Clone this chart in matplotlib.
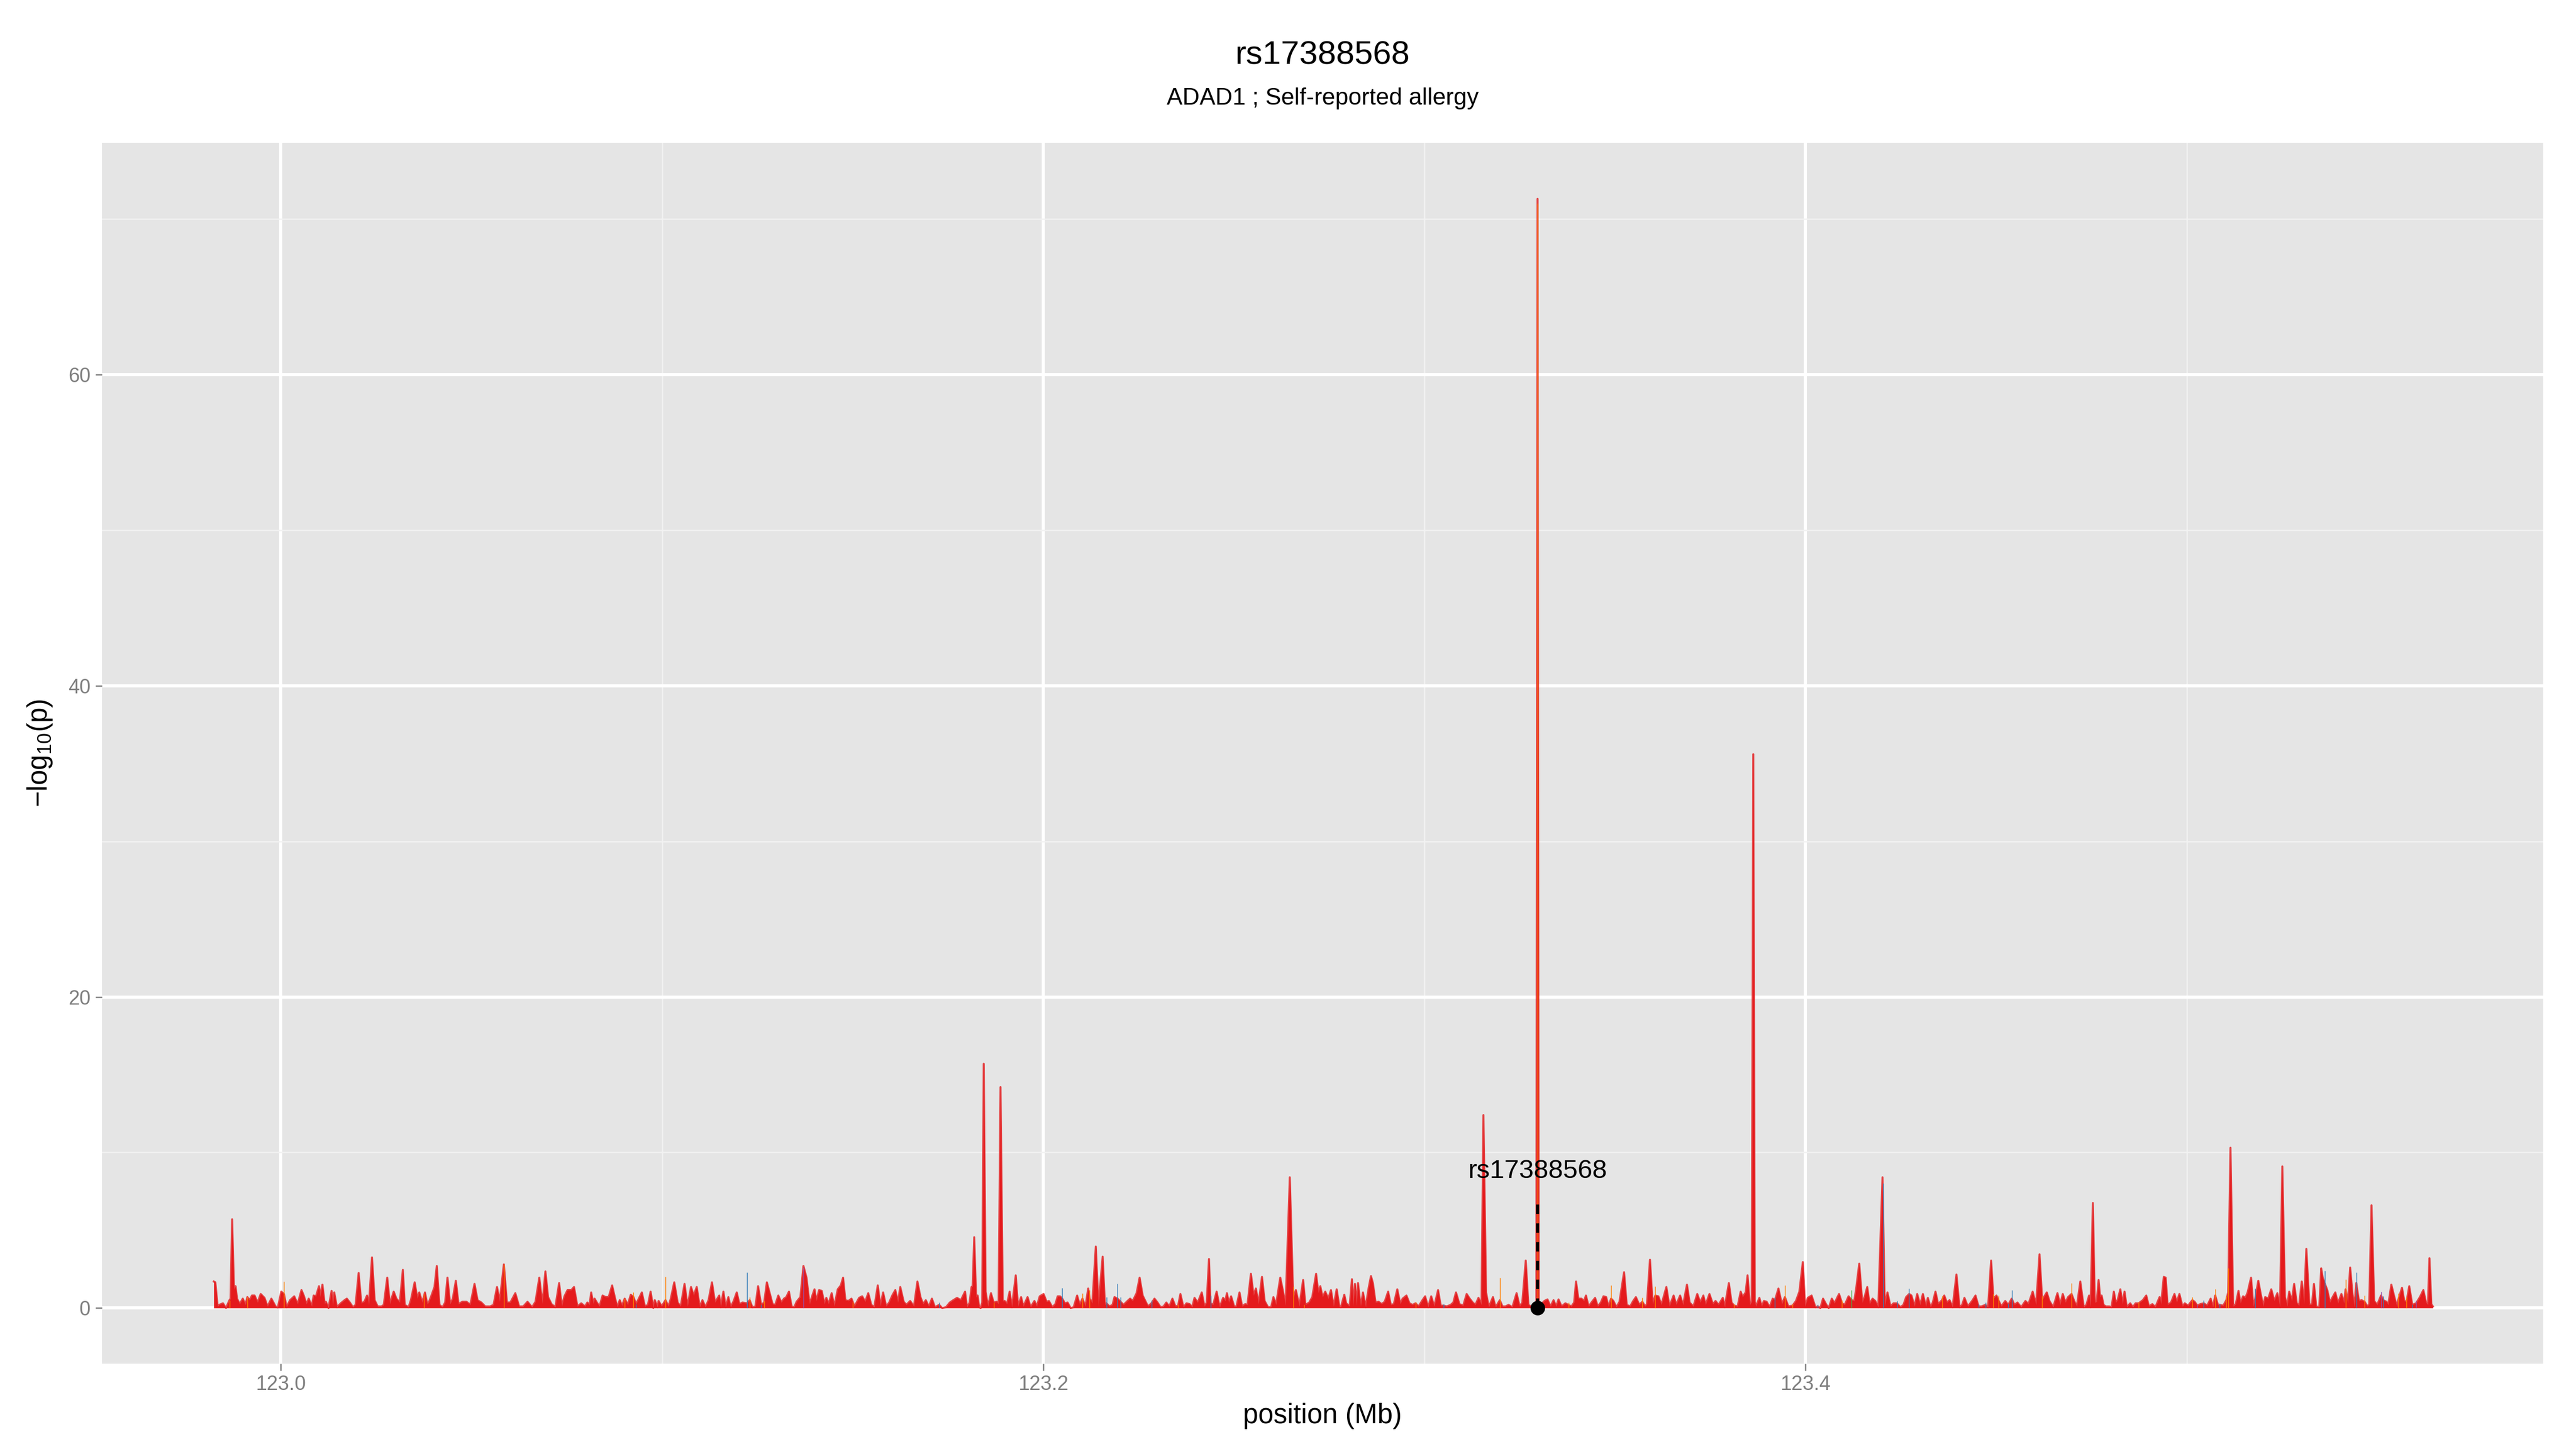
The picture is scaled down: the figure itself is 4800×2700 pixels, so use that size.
import matplotlib
matplotlib.use("Agg")
import matplotlib.pyplot as plt
import numpy as np

plt.rcParams['font.family'] = ['Liberation Sans', 'DejaVu Sans']

# ---------------- data ----------------
red_pos = [
 122.9824,122.9828,122.9834,122.9838,122.9848,122.9856,122.9865,122.9868,122.9872,122.9877,
 122.9881,122.9885,122.9892,122.9900,122.9907,122.9912,122.9918,122.9924,122.9931,122.9939,
 122.9947,122.9957,122.9965,122.9975,122.9986,122.9992,123.0001,123.0008,123.0015,123.0024,
 123.0035,123.0044,123.0054,123.0060,123.0067,123.0073,123.0081,123.0086,123.0092,123.0100,
 123.0103,123.0109,123.0115,123.0118,123.0125,123.0133,123.0136,123.0140,123.0147,123.0157,
 123.0167,123.0173,123.0181,123.0189,123.0196,123.0204,123.0211,123.0219,123.0226,123.0231,
 123.0239,123.0246,123.0254,123.0264,123.0270,123.0279,123.0286,123.0296,123.0303,123.0312,
 123.0320,123.0325,123.0335,123.0341,123.0351,123.0358,123.0363,123.0371,123.0378,123.0384,
 123.0388,123.0395,123.0403,123.0409,123.0416,123.0424,123.0431,123.0437,123.0444,123.0451,
 123.0459,123.0466,123.0476,123.0487,123.0497,123.0508,123.0516,123.0526,123.0536,123.0549,
 123.0558,123.0567,123.0574,123.0585,123.0593,123.0602,123.0615,123.0625,123.0636,123.0647,
 123.0659,123.0668,123.0678,123.0686,123.0694,123.0701,123.0710,123.0720,123.0730,123.0737,
 123.0744,123.0752,123.0762,123.0769,123.0778,123.0788,123.0798,123.0804,
 123.0810,123.0814,123.0820,123.0823,123.0829,123.0836,123.0844,123.0852,123.0860,123.0869,
 123.0877,123.0883,123.0889,123.0895,123.0902,123.0910,123.0918,123.0925,123.0932,123.0939,
 123.0947,123.0955,123.0963,123.0970,123.0977,123.0981,123.0988,123.0991,123.0999,123.1009,
 123.1017,123.1023,123.1032,123.1041,123.1049,123.1059,123.1067,123.1076,123.1083,123.1091,
 123.1099,123.1106,123.1114,123.1122,123.1131,123.1139,123.1150,123.1154,123.1161,123.1167,
 123.1174,123.1180,123.1188,123.1196,123.1203,123.1211,123.1223,123.1230,123.1237,123.1245,
 123.1252,123.1260,123.1268,123.1275,123.1282,123.1290,123.1297,123.1305,123.1313,123.1320,
 123.1326,123.1333,123.1340,123.1347,123.1353,123.1363,123.1371,123.1379,123.1387,123.1393,
 123.1400,123.1405,123.1412,123.1419,123.1426,123.1431,123.1437,123.1445,123.1452,123.1461,
 123.1469,123.1475,123.1481,123.1489,123.1497,123.1505,123.1517,123.1525,123.1533,123.1541,
 123.1549,123.1557,123.1566,123.1573,123.1580,123.1588,123.1596,123.1604,123.1612,123.1619,
 123.1625,123.1634,123.1641,123.1651,123.1661,123.1670,123.1678,123.1685,123.1692,123.1700,
 123.1708,123.1716,123.1727,123.1735,123.1745,123.1755,123.1764,123.1774,123.1784,123.1790,
 123.1795,123.1800,123.1807,123.1812,123.1815,123.1819,123.1824,123.1828,123.1832,123.1836,
 123.1840,123.1844,123.1849,123.1855,123.1863,123.1870,123.1878,123.1883,123.1888,123.1894,
 123.1899,123.1905,123.1912,123.1918,123.1928,123.1934,123.1942,123.1948,123.1959,123.1967,
 123.1977,123.1983,123.1991,123.2001,123.2009,123.2015,123.2024,123.2032,123.2038,123.2044,
 123.2050,123.2057,123.2064,123.2072,123.2080,123.2089,123.2096,123.2103,123.2111,123.2118,
 123.2122,123.2129,123.2138,123.2145,123.2156,123.2162,123.2166,123.2174,123.2182,123.2187,
 123.2195,123.2203,123.2211,123.2219,123.2228,123.2235,123.2245,123.2253,123.2261,123.2268,
 123.2275,123.2284,123.2292,123.2300,123.2308,123.2316,123.2323,123.2331,123.2339,123.2347,
 123.2354,123.2360,123.2368,123.2376,123.2384,123.2391,123.2397,123.2405,123.2408,123.2416,
 123.2423,123.2429,123.2435,123.2439,123.2446,123.2455,123.2463,123.2472,123.2478,123.2482,
 123.2487,123.2493,123.2501,123.2507,123.2515,123.2522,123.2530,123.2536,123.2545,123.2552,
 123.2558,123.2565,123.2574,123.2581,123.2590,123.2598,123.2604,123.2611,123.2622,123.2629,
 123.2636,123.2647,123.2656,123.2663,123.2672,123.2682,123.2688,123.2698,123.2706,123.2716,
 123.2722,123.2727,123.2733,123.2740,123.2748,123.2755,123.2762,123.2770,123.2777,
 123.2781,123.2790,123.2795,123.2804,123.2810,123.2813,123.2818,123.2822,123.2826,123.2833,
 123.2839,123.2846,123.2854,123.2860,123.2865,123.2872,123.2880,123.2888,123.2896,123.2905,
 123.2912,123.2920,123.2929,123.2937,123.2943,123.2953,123.2961,123.2969,123.2977,123.2985,
 123.2995,123.3002,123.3010,123.3018,123.3026,123.3036,123.3043,123.3050,123.3059,123.3069,
 123.3076,123.3083,123.3092,123.3102,123.3111,123.3119,123.3127,123.3134,123.3142,123.3150,
 123.3155,123.3162,123.3169,123.3180,123.3187,123.3198,123.3205,123.3213,123.3221,123.3231,
 123.3242,123.3250,123.3257,123.3266,123.3273,123.3283,123.3290,123.3294,123.3297,123.3300,
 123.3305,123.3315,123.3323,123.3331,123.3339,123.3346,123.3352,123.3360,123.3370,123.3378,
 123.3386,123.3393,123.3398,123.3404,123.3412,123.3419,123.3424,123.3431,123.3440,123.3448,
 123.3455,123.3463,123.3470,123.3477,123.3483,123.3490,123.3496,123.3504,123.3512,123.3524,
 123.3531,123.3540,123.3548,123.3555,123.3564,123.3572,123.3579,123.3584,123.3592,123.3599,
 123.3606,123.3614,123.3622,123.3635,123.3643,123.3654,123.3661,123.3671,123.3679,123.3689,
 123.3696,123.3706,123.3716,123.3724,123.3732,123.3738,123.3748,123.3757,123.3764,
 123.3772,123.3783,123.3788,123.3793,123.3799,123.3806,123.3813,123.3822,123.3830,123.3835,
 123.3843,123.3848,123.3854,123.3859,123.3863,123.3867,123.3870,123.3879,123.3885,123.3891,
 123.3898,123.3906,123.3914,123.3920,123.3929,123.3938,123.3946,123.3955,123.3966,123.3975,
 123.3984,123.3993,123.3999,123.4006,123.4016,123.4026,123.4032,123.4039,123.4046,123.4055,
 123.4061,123.4069,123.4076,123.4088,123.4096,123.4103,123.4113,123.4121,123.4128,123.4133,
 123.4141,123.4149,123.4155,123.4162,123.4168,123.4176,123.4183,123.4191,123.4202,123.4208,
 123.4215,123.4223,123.4231,123.4240,123.4249,123.4257,123.4264,123.4272,123.4278,123.4286,
 123.4293,123.4301,123.4308,123.4316,123.4321,123.4328,123.4334,123.4341,123.4348,123.4358,
 123.4364,123.4371,123.4378,123.4386,123.4396,123.4404,123.4411,123.4417,123.4426,123.4437,
 123.4446,123.4454,123.4462,123.4472,123.4479,123.4487,123.4493,123.4501,123.4506,123.4514,
 123.4524,123.4532,123.4541,123.4548,123.4556,123.4566,123.4577,123.4585,123.4596,123.4605,
 123.4614,123.4621,123.4633,123.4640,123.4650,123.4661,123.4668,123.4675,123.4682,123.4689,
 123.4698,123.4705,123.4712,123.4721,123.4730,123.4737,123.4744,
 123.4748,123.4754,123.4759,123.4764,123.4769,123.4773,123.4777,123.4782,123.4788,123.4797,
 123.4803,123.4809,123.4814,123.4819,123.4826,123.4832,123.4837,123.4843,123.4852,123.4859,
 123.4866,123.4874,123.4885,123.4894,123.4901,123.4910,123.4918,123.4929,123.4933,123.4940,
 123.4945,123.4950,123.4959,123.4968,123.4974,123.4981,123.4989,123.4995,123.5004,123.5010,
 123.5015,123.5021,123.5028,123.5036,123.5045,123.5054,123.5063,123.5069,123.5075,123.5082,
 123.5087,123.5096,123.5104,123.5109,123.5115,123.5122,123.5129,123.5136,123.5141,123.5148,
 123.5154,123.5160,123.5169,123.5175,123.5180,123.5188,123.5194,123.5201,123.5206,123.5214,
 123.5222,123.5230,123.5238,123.5245,123.5251,123.5258,123.5264,123.5269,123.5276,123.5282,
 123.5289,123.5295,123.5302,123.5308,123.5314,123.5322,123.5329,123.5334,123.5340,123.5348,
 123.5353,123.5357,123.5362,123.5369,123.5376,123.5382,123.5390,123.5397,123.5406,123.5413,
 123.5417,123.5423,123.5429,123.5435,123.5440,123.5445,123.5452,123.5459,123.5467,123.5474,
 123.5479,123.5485,123.5492,123.5500,123.5510,123.5516,123.5524,123.5529,123.5537,123.5544,
 123.5552,123.5555,123.5565,123.5571,123.5577,123.5584,123.5592,123.5597,123.5602,123.5612,
 123.5621,123.5628,123.5633,123.5637,123.5642,123.5646,
]
red_val = [
 1.7,1.65,0.1,0.2,0.3,0.0,0.5,0.6,5.7,1.2,
 1.4,0.6,0.25,0.6,0.2,0.7,0.5,0.8,0.8,0.35,
 0.9,0.65,0.1,0.6,0.1,0.03,1.05,0.9,0.05,0.5,
 0.75,0.25,1.15,0.8,0.25,0.6,0.1,0.8,0.75,1.4,
 0.7,1.5,0.25,0.4,0.0,1.1,0.1,1.0,0.05,0.3,
 0.5,0.6,0.35,0.05,0.2,2.25,0.3,0.4,0.8,0.2,
 3.25,0.5,0.1,0.1,0.2,1.95,0.25,1.05,0.6,0.35,
 2.45,0.2,0.05,0.5,1.65,0.6,1.0,0.35,1.0,0.25,
 0.35,0.8,1.35,2.7,0.2,0.05,0.35,1.95,0.25,0.6,
 1.75,0.25,0.4,0.4,0.2,1.55,0.5,0.35,0.1,0.1,
 0.2,1.35,0.4,2.8,0.35,0.35,0.95,0.1,0.1,0.4,
 0.05,0.4,1.95,0.25,2.35,0.7,0.25,0.05,1.6,0.1,
 0.75,1.15,1.15,1.35,0.1,0.3,0.1,0.35,
 0.2,1.0,0.25,0.6,0.35,0.1,0.8,0.7,0.7,1.45,
 0.6,0.05,0.5,0.15,0.6,0.2,0.85,0.7,0.25,0.6,
 1.0,0.1,0.2,1.05,0.0,0.5,0.05,0.45,0.1,0.5,
 0.1,0.6,1.65,0.35,0.1,1.55,0.1,1.35,0.8,1.35,
 0.05,0.5,0.05,0.5,1.65,0.35,0.8,0.05,1.05,0.05,
 0.7,0.05,0.45,1.0,0.25,0.35,0.3,0.5,0.05,0.1,
 1.4,0.2,0.35,1.65,1.0,0.25,0.2,0.8,0.35,0.6,
 0.7,1.05,0.1,0.05,0.4,0.7,2.7,1.95,0.25,0.7,
 1.2,0.45,1.15,1.1,0.25,0.65,0.25,0.95,0.1,1.2,
 1.45,1.95,0.5,0.45,0.6,0.1,0.65,0.75,0.4,0.95,
 0.2,0.05,1.45,0.1,1.0,0.1,0.35,0.8,1.15,0.35,
 1.35,0.4,0.2,0.45,0.1,1.7,0.7,0.25,0.5,0.1,
 0.6,0.05,0.2,0.0,0.05,0.35,0.5,0.65,0.5,0.8,
 1.05,0.05,0.35,1.35,1.4,4.55,0.7,0.8,0.05,0.0,
 0.35,15.7,1.05,0.1,0.95,0.35,0.4,0.25,14.2,0.45,
 0.45,0.25,1.05,0.05,2.1,0.1,0.7,0.1,0.7,0.05,
 0.45,0.1,0.75,0.9,0.4,0.45,0.05,0.25,0.75,0.75,
 0.6,0.3,0.35,0.0,0.05,0.8,0.2,0.6,0.1,1.25,
 0.6,0.3,3.95,0.1,3.3,0.2,0.3,0.1,0.2,0.7,
 0.6,0.4,0.2,0.4,0.6,0.45,0.95,1.95,0.8,0.45,
 0.1,0.3,0.6,0.35,0.05,0.1,0.35,0.1,0.6,0.1,
 0.15,0.9,0.05,0.3,0.25,0.05,0.65,0.35,0.5,1.0,
 0.1,0.35,3.15,0.3,0.2,1.05,0.05,0.65,0.45,0.95,
 0.35,0.75,0.1,0.1,1.0,0.1,0.25,0.2,2.2,0.8,
 1.25,0.25,2.0,0.45,0.05,0.05,0.7,0.2,1.95,1.1,
 0.15,8.4,0.6,1.15,0.1,1.8,0.2,0.35,0.7,2.2,
 0.95,1.4,0.7,1.05,0.6,1.15,0.1,1.2,0.1,
 0.05,0.85,0.3,0.1,1.85,0.1,1.55,0.1,1.6,0.1,
 1.0,0.05,1.3,2.05,1.6,0.35,0.4,0.25,0.4,1.05,
 0.2,0.25,1.2,0.25,0.6,0.8,0.3,0.2,0.3,0.1,
 0.5,0.75,0.05,0.75,0.1,1.15,0.15,0.15,0.1,0.2,
 0.35,1.0,0.25,0.15,0.9,0.6,0.35,0.2,0.65,0.2,
 12.4,1.0,0.05,0.7,0.05,0.5,0.1,0.1,0.2,0.05,
 0.95,0.1,0.35,3.05,0.2,0.05,0.1,0.3,71.3,0.3,
 0.2,0.45,0.55,0.1,0.5,0.1,0.55,0.1,0.3,0.2,
 0.1,0.35,1.7,0.6,0.6,0.45,0.8,0.1,0.4,0.65,
 0.1,0.35,0.75,0.7,0.1,0.6,0.45,0.05,0.4,2.3,
 0.2,0.1,0.45,0.7,0.2,0.4,0.1,0.25,3.1,0.25,
 0.8,0.75,0.2,1.35,0.1,0.8,0.2,0.8,0.2,1.5,
 0.35,0.1,0.9,0.35,0.8,0.2,0.9,0.25,0.45,
 0.2,0.65,0.05,0.75,1.6,0.35,0.15,0.1,1.05,0.7,
 1.0,2.1,0.2,0.4,35.6,0.4,0.1,0.65,0.1,0.45,
 0.4,0.05,0.6,0.5,1.25,0.25,0.7,0.1,0.15,0.45,
 1.05,2.95,0.1,0.65,0.8,0.05,0.1,0.0,0.6,0.2,
 0.0,0.6,0.3,0.9,0.3,0.2,0.75,0.5,0.45,1.25,
 2.85,0.35,0.7,1.35,0.25,0.6,0.45,0.05,8.4,0.1,
 1.0,0.1,0.3,0.3,0.05,0.2,0.7,0.9,0.8,0.1,
 0.9,0.2,0.9,0.1,0.65,0.05,0.35,1.05,0.25,0.5,
 0.8,0.35,0.5,0.05,2.15,0.05,0.2,0.65,0.1,0.45,
 0.8,0.1,0.1,0.2,0.05,3.05,0.6,0.8,0.5,0.1,
 0.45,0.2,0.6,0.2,0.35,0.05,0.45,0.25,1.05,0.2,
 3.45,0.5,1.0,0.45,0.05,0.95,0.2,0.9,0.35,0.7,
 0.9,0.45,0.1,1.7,0.05,0.2,0.8,
 0.05,6.75,0.35,0.4,1.8,0.7,0.8,0.2,0.1,0.1,
 0.05,1.05,0.35,0.5,1.2,0.25,1.05,0.05,0.3,0.05,
 0.3,0.3,0.5,0.8,0.1,0.25,0.05,0.7,0.25,2.0,
 1.95,0.2,0.35,0.9,0.35,0.9,0.1,0.3,0.15,0.35,
 0.5,0.4,0.15,0.25,0.3,0.15,0.6,0.05,0.8,0.2,
 0.2,0.15,0.5,1.0,10.3,0.1,0.25,1.1,0.3,0.75,
 0.65,1.0,1.95,0.1,0.6,1.75,0.95,0.1,0.7,0.6,
 1.2,0.45,0.95,0.05,9.1,0.7,0.1,1.05,0.45,1.55,
 0.3,0.15,1.7,0.25,3.8,0.2,0.25,1.55,0.1,0.05,
 2.55,1.95,1.6,1.15,0.35,0.65,1.0,0.3,0.9,0.3,
 1.2,0.3,2.6,0.95,0.05,1.6,0.45,0.5,0.4,0.1,
 0.25,6.6,0.45,0.2,0.8,0.5,0.4,0.2,1.5,0.8,
 0.05,0.5,1.3,0.45,0.4,1.4,0.2,0.25,0.3,0.7,
 1.15,0.35,0.2,3.2,0.25,0.1,
]

orange_pos = [122.9865,122.9912,123.0008,123.0376,123.0585,123.0902,123.0925,123.1009,123.1230,
              123.1268,123.1501,123.1870,123.2103,123.2122,123.2354,123.2656,123.2685,123.2977,
              123.3198,123.3297,123.3378,123.3490,123.3572,123.3606,123.3813,123.3946,123.3966,
              123.4096,123.4358,123.4493,123.4506,123.4621,123.4698,123.4874,123.5015,123.5075,
              123.5104,123.5109,123.5417,123.5467,123.5555,123.5577]
orange_val = [0.5,0.7,1.7,0.9,2.8,0.6,1.0,2.0,0.7,
              0.45,0.4,0.35,0.95,1.15,0.2,1.4,0.2,0.4,
              1.95,71.0,0.35,1.45,0.65,1.4,0.25,1.45,0.25,
              0.5,0.75,0.9,0.8,0.75,1.6,0.4,0.7,1.2,
              0.75,2.55,1.85,0.8,0.95,0.7]
blue_pos = [123.0932,123.1223,123.1260,123.1727,123.2050,123.2166,123.2195,123.2203,123.2284,
            123.2439,123.3050,123.3920,123.4032,123.4204,123.4240,123.4272,123.4454,123.4472,
            123.4532,123.4541,123.5045,123.5087,123.5180,123.5362,123.5445,123.5516,123.5592]
blue_val = [0.25,2.3,0.2,0.35,1.3,0.7,1.55,0.7,0.5,
            0.8,0.25,0.7,0.2,8.0,0.45,1.25,0.25,0.35,
            0.3,1.15,0.5,0.3,1.25,2.4,2.3,0.75,0.2]
green_pos = [123.4121]
green_val = [1.15]
purple_pos = [123.1371,123.5028,123.5510,123.5602]
purple_val = [2.6,0.2,1.05,0.45]

lead_snp = "rs17388568"
lead_pos = 123.3297
lead_line_top = 7.2
lead_label_y = 8.8

x_ticks = [123.0, 123.2, 123.4]
x_tick_labels = ["123.0", "123.2", "123.4"]
x_minor = [123.1, 123.3, 123.5]
y_ticks = [0, 20, 40, 60]
y_minor = [10, 30, 50, 70]

title = "rs17388568"
subtitle = "ADAD1 ; Self-reported allergy"

# ---------------- style ----------------
RED = "#E41A1C"; ORANGE = "#FF7F00"; BLUE = "#377EB8"; GREEN = "#4DAF4A"; PURPLE = "#984EA3"

fig = plt.figure(figsize=(16, 9), dpi=300)
ax = fig.add_axes([0.0395, 0.059, 0.9477, 0.8424])
ax.set_facecolor("#E5E5E5")
for s in ax.spines.values():
    s.set_visible(False)

ax.set_xlim(122.9530, 123.5935)
ax.set_ylim(-3.57, 74.9)

ax.set_xticks(x_ticks)
ax.set_xticklabels(x_tick_labels)
ax.set_xticks(x_minor, minor=True)
ax.set_yticks(y_ticks)
ax.set_yticks(y_minor, minor=True)
ax.grid(True, which="major", color="white", lw=1.4)
ax.grid(True, which="minor", color="#F2F2F2", lw=0.6)
ax.set_axisbelow(True)
ax.tick_params(which="major", length=3, width=0.6, color="#7F7F7F", labelcolor="#7F7F7F",
               labelsize=9, pad=2)
ax.tick_params(which="minor", length=0)

rp = np.array(red_pos); rv = np.array(red_val)
ax.fill_between(rp, 0, rv, color=RED, lw=0, zorder=2)
ax.plot(rp, rv, color=RED, lw=0.9, alpha=0.8, zorder=2)

def spikes(pos, val, color):
    ax.vlines(pos, 0, val, colors=color, lw=0.35, zorder=3)

spikes(orange_pos, orange_val, ORANGE)
spikes(blue_pos, blue_val, BLUE)
spikes(green_pos, green_val, GREEN)
spikes(purple_pos, purple_val, PURPLE)

ax.plot([lead_pos, lead_pos], [0, lead_line_top], color="black", lw=1.4,
        dashes=(3, 3), zorder=4)
ax.plot([lead_pos], [0], "o", color="black", ms=5.5, zorder=5)
ax.text(lead_pos, lead_label_y, lead_snp, ha="center", va="center", fontsize=11.8,
        color="black", zorder=6)

ax.set_xlabel("position (Mb)", fontsize=12.3, labelpad=4)
ax.set_ylabel(r"$\mathregular{-log_{10}(p)}$", fontsize=12.3)
ax.yaxis.set_label_coords(-0.0195, 0.5)

fig.text(0.5135, 0.9615, title, ha="center", va="center", fontsize=14.8)
fig.text(0.5135, 0.932, subtitle, ha="center", va="center", fontsize=10.6)

fig.savefig("out.png", dpi=300)
